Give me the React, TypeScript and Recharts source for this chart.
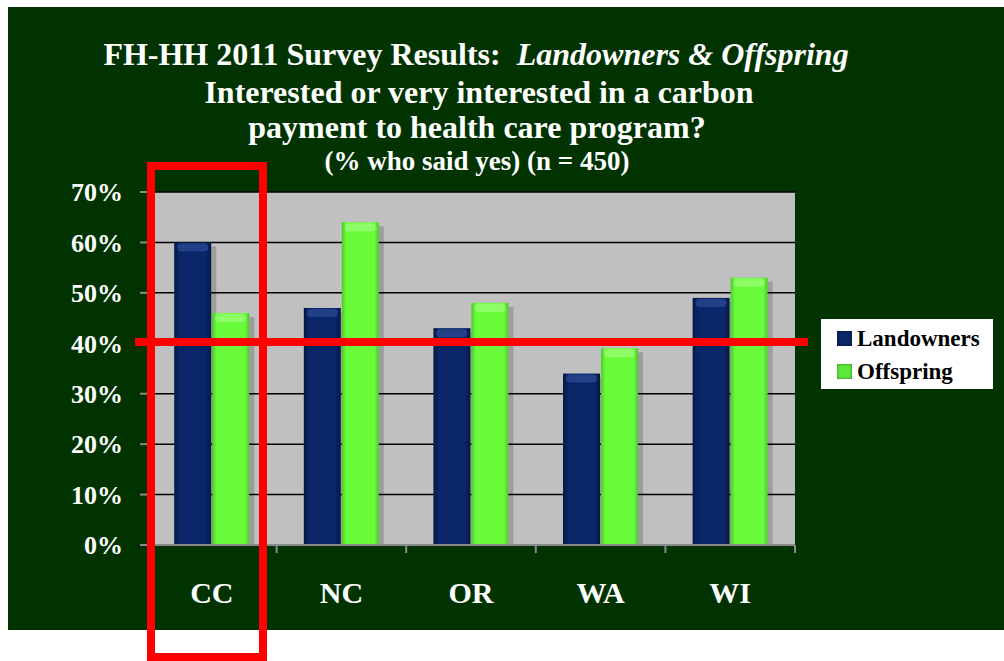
import { BarChart, Bar, XAxis, YAxis, CartesianGrid, Legend } from "recharts";

const categories = ["CC", "NC", "OR", "WA", "WI"];
const landowners = [60, 47, 43, 34, 49];
const offspring = [46, 64, 48, 39, 53];
const yTicks = [0, 10, 20, 30, 40, 50, 60, 70];

const data = categories.map((c, i) => ({
  name: c,
  landowners: landowners[i],
  offspring: offspring[i],
}));

const FONT = "'Liberation Serif', 'Times New Roman', serif";
const W = 1004;
const H = 661;
const PLOT_LEFT = 147;
const PLOT_RIGHT = 209;
const BAND = (W - PLOT_LEFT - PLOT_RIGHT) / categories.length;

function BarShape(props: any) {
  const { x, y, width, height, gradId, top } = props;
  if (!height || height <= 0) return null;
  return (
    <g>
      <rect x={x + width} y={y + 4} width={5} height={height - 4} fill="rgba(0,0,0,0.18)" />
      <rect x={x} y={y} width={width} height={height} fill={`url(#${gradId})`} />
      <rect x={x + 3} y={y + 1} width={width - 6} height={8} rx={4} fill={top} opacity={0.5} />
    </g>
  );
}

function XTick(props: any) {
  const { x, y, payload } = props;
  return (
    <g>
      <line x1={x + BAND / 2} x2={x + BAND / 2} y1={y} y2={y + 8} stroke="#8a8a8a" strokeWidth={2} />
      <text
        x={x}
        y={y + 58}
        textAnchor="middle"
        fill="#fff"
        fontFamily={FONT}
        fontWeight="bold"
        fontSize={30}
      >
        {payload.value}
      </text>
    </g>
  );
}

function LegendBox() {
  const items = [
    { label: "Landowners", color: "#0b2566" },
    { label: "Offspring", color: "#5ee83a" },
  ];
  return (
    <div
      style={{
        background: "#fff",
        width: 172,
        height: 70,
        boxSizing: "border-box",
        padding: "3px 0 0 16px",
        fontFamily: FONT,
        fontWeight: "bold",
        fontSize: 23,
        color: "#000",
      }}
    >
      {items.map((it) => (
        <div key={it.label} style={{ display: "flex", alignItems: "center", height: 33 }}>
          <span
            style={{
              width: 15,
              height: 15,
              marginRight: 5,
              background: it.color,
              boxShadow: "inset 0 0 3px rgba(0,0,0,0.5)",
            }}
          />
          {it.label}
        </div>
      ))}
    </div>
  );
}

export default function App() {
  return (
    <div style={{ position: "relative", width: W, height: H, background: "#fff", overflow: "hidden" }}>
      <style>{`body{margin:0}`}</style>
      <div style={{ position: "absolute", left: 8, top: 7, width: 996, height: 623, background: "#003300" }} />

      <svg
        width={W}
        height={190}
        style={{ position: "absolute", left: 0, top: 0 }}
        fontFamily={FONT}
        fontWeight="bold"
        fill="#fff"
        textAnchor="middle"
      >
        <text x={476} y={65} fontSize={32}>
          FH-HH 2011 Survey Results:{"\u00a0 "}
          <tspan fontStyle="italic">Landowners &amp; Offspring</tspan>
        </text>
        <text x={479} y={103} fontSize={32}>Interested or very interested in a carbon</text>
        <text x={477} y={138} fontSize={32}>payment to health care program?</text>
        <text x={477} y={170} fontSize={27}>(% who said yes) (n = 450)</text>
      </svg>

      <div style={{ position: "absolute", left: 0, top: 0 }}>
        <BarChart
          width={W}
          height={H}
          data={data}
          margin={{ top: 192, right: PLOT_RIGHT, left: 0, bottom: 0 }}
          barCategoryGap="21%"
          barGap={1}
        >
          <defs>
            <linearGradient id="gNavy" x1="0" y1="0" x2="1" y2="0">
              <stop offset="0" stopColor="#051845" />
              <stop offset="0.15" stopColor="#0b2668" />
              <stop offset="0.85" stopColor="#0b2668" />
              <stop offset="1" stopColor="#051845" />
            </linearGradient>
            <linearGradient id="gGreen" x1="0" y1="0" x2="1" y2="0">
              <stop offset="0" stopColor="#4cc82c" />
              <stop offset="0.12" stopColor="#6afc3a" />
              <stop offset="0.88" stopColor="#6afc3a" />
              <stop offset="1" stopColor="#4cc82c" />
            </linearGradient>
          </defs>
          <CartesianGrid vertical={false} stroke="#000" strokeWidth={1.5} fill="#c0c0c0" fillOpacity={1} />
          <XAxis
            dataKey="name"
            height={116}
            axisLine={{ stroke: "#8a8a8a", strokeWidth: 2 }}
            tickLine={false}
            tickSize={0}
            tickMargin={0}
            tick={<XTick />}
            interval={0}
          />
          <YAxis
            width={PLOT_LEFT}
            domain={[0, 70]}
            ticks={yTicks}
            interval={0}
            axisLine={false}
            tickLine={{ stroke: "#8a8a8a", strokeWidth: 2 }}
            tickSize={7}
            tickMargin={17}
            tickFormatter={(v: number) => `${v}%`}
            tick={{ fill: "#fff", fontSize: 26, fontWeight: "bold", fontFamily: FONT }}
          />
          <Bar
            dataKey="landowners"
            name="Landowners"
            fill="#0b2566"
            isAnimationActive={false}
            shape={(p: any) => <BarShape {...p} gradId="gNavy" top="#3a5aa8" />}
          />
          <Bar
            dataKey="offspring"
            name="Offspring"
            fill="#5ee83a"
            isAnimationActive={false}
            shape={(p: any) => <BarShape {...p} gradId="gGreen" top="#b0ff90" />}
          />
          <Legend
            layout="vertical"
            align="center"
            verticalAlign="middle"
            content={() => <LegendBox />}
            wrapperStyle={{ left: 821, top: 319, width: 172, height: 70 }}
          />
        </BarChart>
      </div>

      {/* red annotations */}
      <div
        style={{
          position: "absolute",
          left: 147,
          top: 162,
          width: 120,
          height: 499,
          border: "8px solid #ff0000",
          boxSizing: "border-box",
        }}
      />
      <div style={{ position: "absolute", left: 135, top: 338, width: 673, height: 8, background: "#ff0000" }} />
    </div>
  );
}
